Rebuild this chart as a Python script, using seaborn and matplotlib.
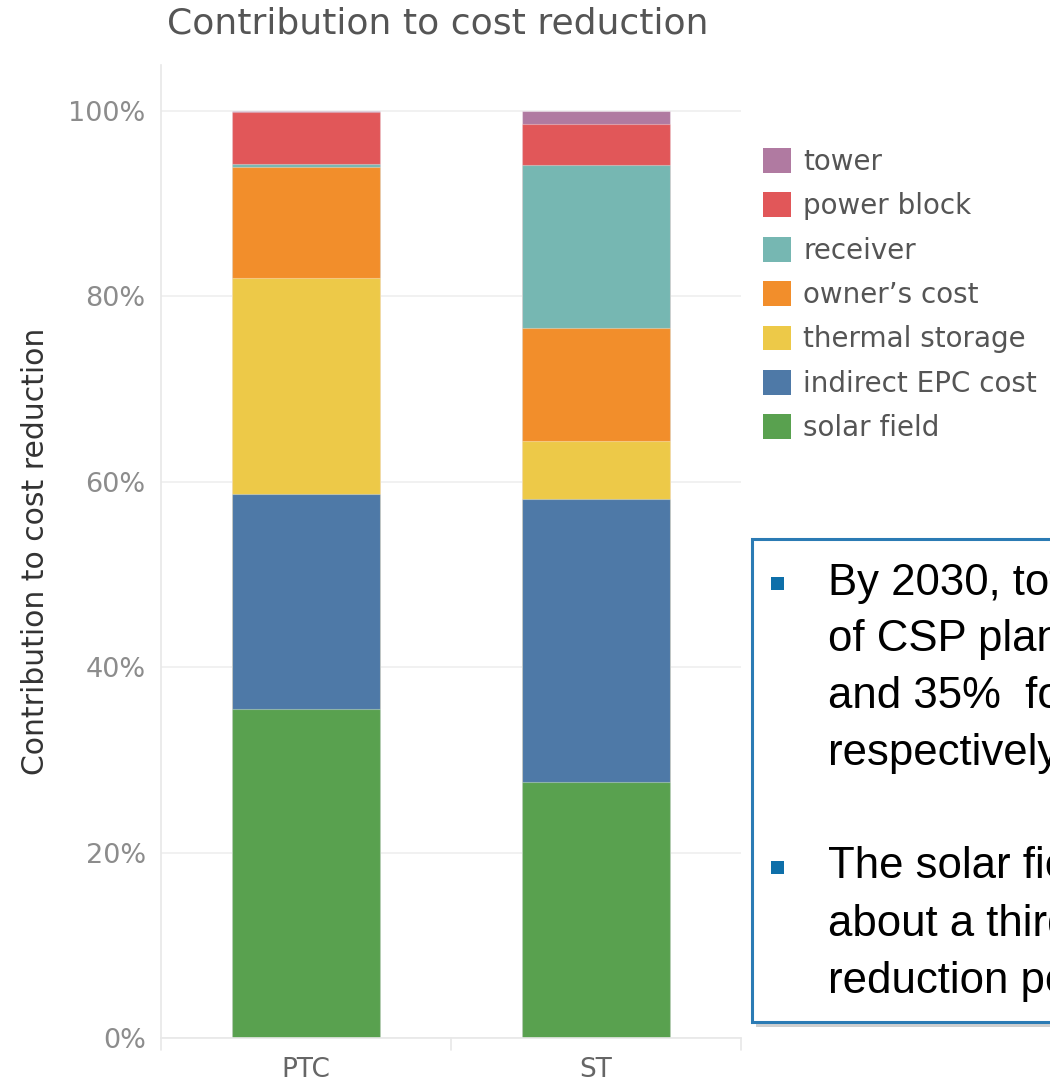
import matplotlib
matplotlib.use("Agg")
import matplotlib.pyplot as plt
import matplotlib.transforms as mtransforms
from matplotlib.patches import Patch, Rectangle
import numpy as np
import seaborn as sns

# ---- data -------------------------------------------------------------
technologies = ["PTC", "ST"]
components = ["tower", "power block", "receiver", "owner\u2019s cost",
              "thermal storage", "indirect EPC cost", "solar field"]
ptc_share = [0.001, 0.056, 0.003, 0.120, 0.233, 0.232, 0.355]
st_share = [0.014, 0.044, 0.176, 0.122, 0.063, 0.305, 0.276]
component_colors = ["#b07aa1", "#e15759", "#76b7b2", "#f28e2b",
                    "#edc948", "#4e79a7", "#59a14f"]
y_ticks = [0.0, 0.2, 0.4, 0.6, 0.8, 1.0]
y_tick_labels = ["0%", "20%", "40%", "60%", "80%", "100%"]

bullet_lines = [
    ["By 2030, total installed costs",
     "of CSP plants could fall by 37%",
     "and 35%  for PTC and ST",
     "respectively"],
    ["The solar field accounts for",
     "about a third of the cost",
     "reduction potential"],
]

# ---- figure -----------------------------------------------------------
sns.set_theme(style="white")
plt.rcParams["font.family"] = ["DejaVu Sans"]

W, H = 1050, 1084
fig = plt.figure(figsize=(W / 100, H / 100), dpi=100)
fig.patch.set_facecolor("white")


def fx(px):
    return px / W


def fy(py):
    return 1 - py / H


ax = fig.add_axes([fx(161), fy(1038), fx(741) - fx(161), fy(65) - fy(1038)])

# stacked bars: draw running totals from the top component down
shares = np.array([ptc_share, st_share])  # (tech, component)
cum_from_bottom = np.cumsum(shares[:, ::-1], axis=1)[:, ::-1]
for i, (name, col) in enumerate(zip(components, component_colors)):
    sns.barplot(x=technologies, y=cum_from_bottom[:, i], color=col,
                saturation=1, width=0.507, ax=ax,
                edgecolor=(1, 1, 1, 0.35), linewidth=0.8)

ax.set_xlim(-0.5, 1.5)
ax.set_ylim(0, 1.0496)
ax.set_yticks(y_ticks)
ax.set_yticklabels(y_tick_labels, fontsize=19.5, color="#8c8c8c")
ax.tick_params(axis="y", length=0, pad=11)
ax.tick_params(axis="x", length=0, pad=14, labelsize=19, labelcolor="#666666")
ax.yaxis.grid(True, color="#efefef", linewidth=1.2)
ax.set_axisbelow(True)
for side in ["top", "right"]:
    ax.spines[side].set_visible(False)
ax.spines["left"].set_color("#e8e8e8")
ax.spines["bottom"].set_color("#e8e8e8")
ax.spines["left"].set_linewidth(1.2)
ax.spines["bottom"].set_linewidth(1.2)

# band separators under the category axis
trans = mtransforms.blended_transform_factory(ax.transData, ax.transAxes)
for xb in [-0.5, 0.5, 1.5]:
    ax.plot([xb, xb], [0, -0.012], color="#e8e8e8", lw=1.2,
            transform=trans, clip_on=False)

ax.set_xlabel("")
ax.set_ylabel("Contribution to cost reduction", fontsize=21.5, color="#333333",
              labelpad=13)

fig.text(fx(167), fy(23), "Contribution to cost reduction", fontsize=26,
         color="#555555", ha="left", va="center")

# legend
handles = [Patch(facecolor=c, edgecolor="none") for c in component_colors]
fig.legend(handles, components, loc="upper left",
           bbox_to_anchor=(fx(749), fy(134)), frameon=False,
           labelcolor="#555555", handlelength=1.0,
           handleheight=1.0, handletextpad=0.45, labelspacing=0.59,
           borderpad=0.0, prop={"family": "DejaVu Sans", "size": 20})

# callout box
shadow = Rectangle((fx(756), fy(1027)), fx(1060) - fx(756), fy(545) - fy(1027),
                   transform=fig.transFigure, facecolor="#a0a0a0",
                   edgecolor="none", alpha=0.5, zorder=5)
fig.patches.append(shadow)
box = Rectangle((fx(752), fy(1022)), fx(1060) - fx(752), fy(539) - fy(1022),
                transform=fig.transFigure, facecolor="white",
                edgecolor="#2b7bb4", linewidth=2.2, zorder=6)
fig.patches.append(box)

line_step = 57
starts = [583, 867]
for block, y0 in zip(bullet_lines, starts):
    sq = Rectangle((fx(771), fy(y0 + 7)), fx(13), 13 / H,
                   transform=fig.transFigure, facecolor="#0e6fa9",
                   edgecolor="none", zorder=7)
    fig.patches.append(sq)
    for k, line in enumerate(block):
        fig.text(fx(828), fy(y0 + k * line_step), line, fontsize=31.5,
                 color="black", ha="left", va="center",
                 family=["Liberation Sans", "DejaVu Sans"], zorder=8)

fig.savefig("out.png", dpi=100)
